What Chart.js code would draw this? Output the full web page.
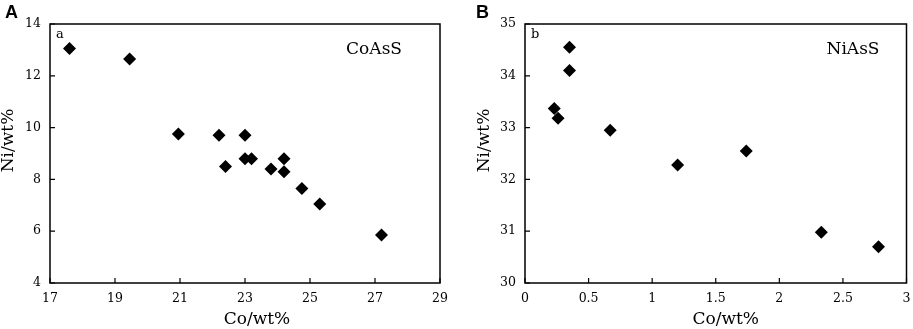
<!DOCTYPE html>
<html>
<head>
<meta charset="utf-8">
<script src="https://cdn.jsdelivr.net/npm/chart.js@4/dist/chart.umd.min.js"></script>
<style>
body { margin: 0; background: #fff; width: 913px; height: 329px; overflow: hidden; position: relative; }
.panel { position: absolute; top: 0; height: 329px; }
.tag { position: absolute; top: 2px; font: bold 18px "Liberation Sans", Arial, sans-serif; color: #000; }
</style>
</head>
<body>
<div class="panel" style="left:0;width:456px"><canvas id="chartA" width="456" height="329"></canvas></div>
<div class="panel" style="left:456px;width:457px"><canvas id="chartB" width="457" height="329"></canvas></div>
<div class="tag" style="left:5px">A</div>
<div class="tag" style="left:476px">B</div>
<script>
// CoAsS analyses (panel a)
const coAsSCo = [17.6, 19.45, 20.95, 22.2, 23.0, 23.0, 23.2, 24.2, 22.4, 23.8, 24.2, 24.75, 25.3, 27.2];
const coAsSNi = [13.05, 12.65, 9.75, 9.7, 9.7, 8.8, 8.8, 8.8, 8.5, 8.4, 8.3, 7.65, 7.05, 5.85];

// NiAsS analyses (panel b)
const niAsSCo = [0.35, 0.35, 0.23, 0.26, 0.67, 1.2, 1.74, 2.33, 2.78];
const niAsSNi = [34.55, 34.1, 33.37, 33.18, 32.95, 32.28, 32.55, 30.98, 30.7];

const xTitle = 'Co/wt%';
const yTitle = 'Ni/wt%';

const serif = '"DejaVu Serif", "Liberation Serif", serif';

// box around the plot, small inward ticks, axis titles, panel letters
const framePlugin = {
    id: 'frame',
    afterDraw(chart, args, opts) {
        const { ctx, chartArea: a, scales } = chart;
        ctx.save();
        ctx.strokeStyle = '#000';
        ctx.lineWidth = 1.5;
        ctx.strokeRect(a.left, a.top, a.right - a.left, a.bottom - a.top);
        ctx.lineWidth = 1.2;
        ctx.beginPath();
        scales.x.ticks.forEach(t => {
            const px = scales.x.getPixelForValue(t.value);
            ctx.moveTo(px, a.bottom);
            ctx.lineTo(px, a.bottom - 5);
        });
        scales.y.ticks.forEach(t => {
            const py = scales.y.getPixelForValue(t.value);
            ctx.moveTo(a.left, py);
            ctx.lineTo(a.left + 5, py);
        });
        ctx.stroke();

        ctx.fillStyle = '#000';
        ctx.textBaseline = 'middle';
        ctx.textAlign = 'center';
        ctx.font = '17px ' + serif;
        ctx.fillText(xTitle, (a.left + a.right) / 2 + opts.xTitleShift, 320);
        ctx.save();
        ctx.translate(opts.yTitleX, (a.top + a.bottom) / 2 - 13);
        ctx.rotate(-Math.PI / 2);
        ctx.fillText(yTitle, 0, 0);
        ctx.restore();

        ctx.font = '13px ' + serif;
        ctx.textAlign = 'left';
        ctx.fillText(opts.letter, a.left + 6, a.top + 11);
        ctx.font = '17px ' + serif;
        ctx.textAlign = 'right';
        ctx.fillText(opts.mineral, a.right - opts.mineralRight, a.top + 26);
        ctx.restore();
    }
};

function makeChart(id, xs, ys, cfg) {
    const points = xs.map((x, i) => ({ x: x, y: ys[i] }));
    return new Chart(document.getElementById(id), {
        type: 'scatter',
        data: {
            datasets: [{
                data: points,
                pointStyle: 'rectRot',
                pointRadius: 6.5,
                pointHoverRadius: 6.5,
                backgroundColor: '#000',
                borderColor: '#000',
                borderWidth: 0
            }]
        },
        options: {
            responsive: false,
            animation: false,
            events: [],
            layout: { padding: { top: 24, right: cfg.padRight, left: 0, bottom: 0 } },
            plugins: {
                legend: { display: false },
                tooltip: { enabled: false },
                frame: cfg.frame
            },
            scales: {
                x: {
                    type: 'linear',
                    min: cfg.xMin, max: cfg.xMax,
                    grid: { display: false, drawTicks: false },
                    border: { display: false },
                    ticks: {
                        stepSize: cfg.xStep, color: '#000', padding: 8,
                        font: { family: serif, size: 12.5 },
                        callback: v => String(v)
                    },
                    afterFit: s => {
                        s.height = 46;
                        s.paddingLeft = 0;
                        s.paddingRight = 0;
                    }
                },
                y: {
                    type: 'linear',
                    min: cfg.yMin, max: cfg.yMax,
                    grid: { display: false, drawTicks: false },
                    border: { display: false },
                    ticks: {
                        stepSize: cfg.yStep, color: '#000', padding: 9,
                        font: { family: serif, size: 12.5 },
                        callback: v => String(v)
                    },
                    afterFit: s => { s.width = cfg.yWidth; }
                }
            }
        },
        plugins: [framePlugin]
    });
}

makeChart('chartA', coAsSCo, coAsSNi, {
    xMin: 17, xMax: 29, xStep: 2, yMin: 4, yMax: 14, yStep: 2,
    yWidth: 50, padRight: 16,
    frame: { letter: 'a', mineral: 'CoAsS', mineralRight: 38, xTitleShift: 12, yTitleX: 9 }
});

makeChart('chartB', niAsSCo, niAsSNi, {
    xMin: 0, xMax: 3, xStep: 0.5, yMin: 30, yMax: 35, yStep: 1,
    yWidth: 69, padRight: 4,
    frame: { letter: 'b', mineral: 'NiAsS', mineralRight: 27, xTitleShift: 10, yTitleX: 29 }
});
</script>
</body>
</html>
